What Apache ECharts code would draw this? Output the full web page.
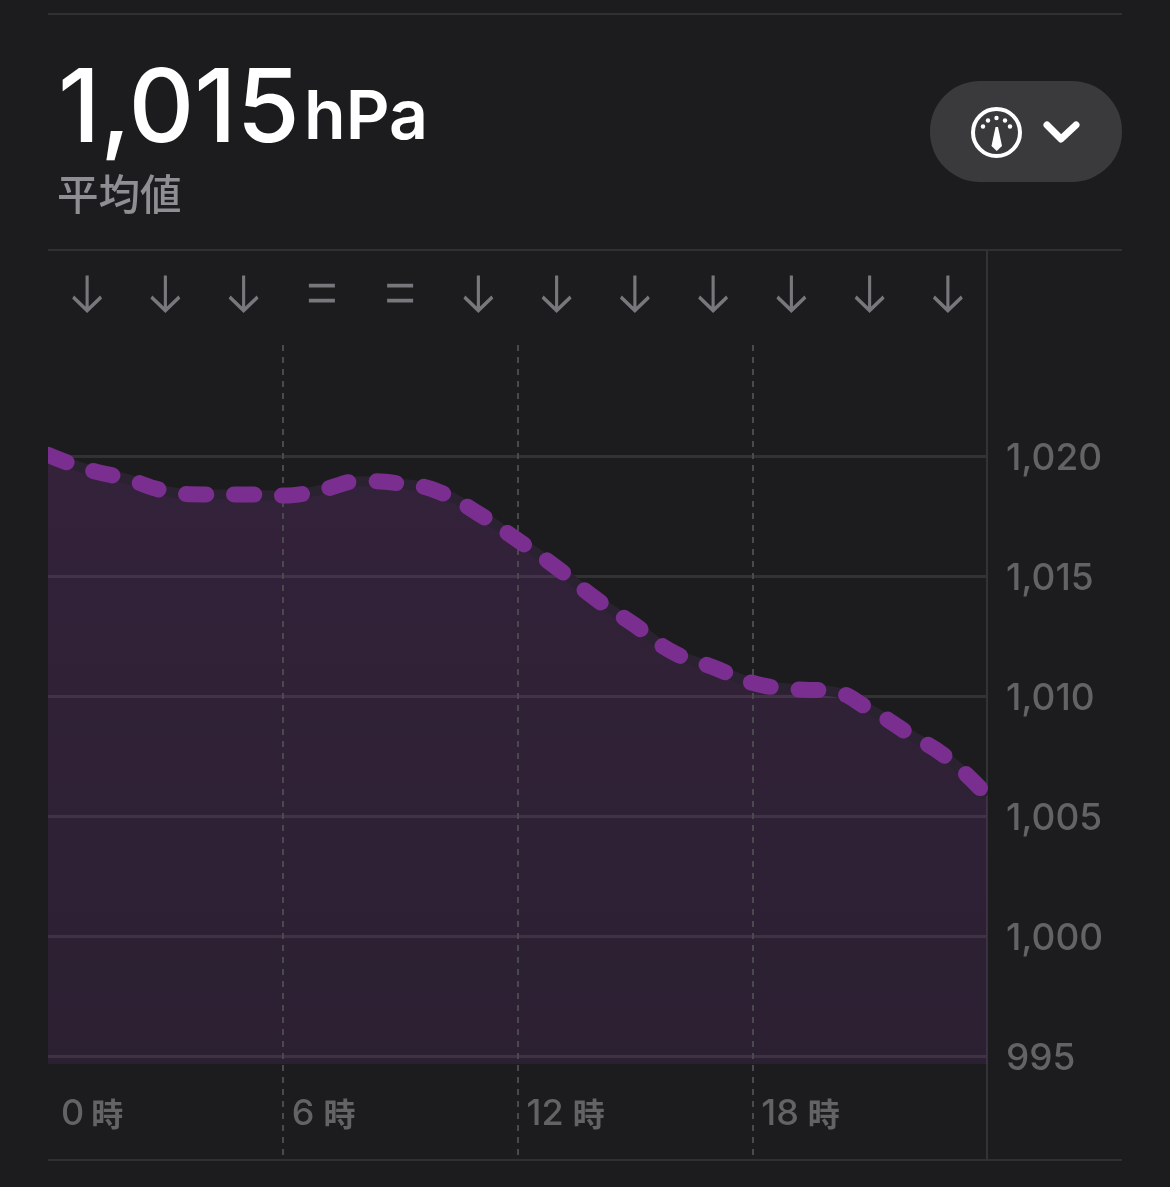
<!DOCTYPE html>
<html><head><meta charset="utf-8">
<style>html,body{margin:0;padding:0;background:#1c1c1e}#c{width:1170px;height:1187px}</style>
<script src="https://cdn.jsdelivr.net/npm/echarts@6/dist/echarts.min.js"></script>
</head><body><div id="c"></div>
<script>
const hours = [0,1,2,3,4,5,6,7,8,9,10,11,12,13,14,15,16,17,18,19,20,21,22,23,24];
const pressure = [1020.05,1019.45,1019.05,1018.55,1018.4,1018.4,1018.35,1018.6,1018.95,1018.85,1018.5,1017.6,1016.5,1015.35,1014.05,1012.95,1011.8,1011.2,1010.55,1010.3,1010.2,1009.45,1008.43,1007.4,1005.85];
const yTicks = [995,1000,1005,1010,1015,1020];
const xTickHours = [0,6,12,18];
const trendHours = [1,3,5,7,9,11,13,15,17,19,21,23];
const trends = ['down','down','down','same','same','down','down','down','down','down','down','down'];
const trendRow = 1026.79;
const areaBase = 994.67, yMin = 990.667, yMax = 1028.583, dashTop = 1024.625;
const headline = '1,015', unit = 'hPa', subtitle = '平均値', hourSuffix = '時';

const latin = 'Inter, "Noto Sans CJK JP", sans-serif';
const cjk = '"Noto Sans CJK JP", sans-serif';
const bg = '#1c1c1e';
const arrow = 'path://M15 0V36M1 22L15 36L29 22';
const equals = 'path://M0 0H28M0 15H28';
const rule = (y) => ({type:'line',shape:{x1:48,y1:y,x2:1122,y2:y},style:{stroke:'#303032',lineWidth:2},silent:true,z:20});

const chart = echarts.init(document.getElementById('c'),null,{renderer:'canvas'});
const digit = {color:'#636366',fontFamily:latin,fontSize:36,fontWeight:500,padding:[0,9,0,0]};
chart.setOption({
  animation:false,
  backgroundColor:bg,
  grid:{left:48,top:250,width:939,height:910},
  xAxis:{type:'value',min:0,max:24,interval:6,
    axisLine:{show:false},axisTick:{show:false},splitLine:{show:false},
    axisLabel:{inside:true,margin:46,showMaxLabel:false,
      align:'left',verticalAlign:'middle',padding:[0,0,0,9],
      rich:{d:digit,z:{...digit,padding:[0,7,0,4]},
            k:{color:'#636366',fontFamily:cjk,fontSize:32,fontWeight:700}},
      formatter:v=>xTickHours.includes(v)?'{'+(v===0?'z':'d')+'|'+v+'}{k|'+hourSuffix+'}':''}},
  yAxis:{type:'value',position:'right',min:yMin,max:yMax,
    axisLine:{show:true,onZero:false,lineStyle:{color:'#333335',width:2}},
    axisTick:{show:false,customValues:yTicks},
    splitLine:{show:true,lineStyle:{color:'#323234',width:3}},
    axisLabel:{customValues:yTicks,margin:19,verticalAlign:'middle',
      rich:{n:{color:'#636366',fontFamily:latin,fontSize:37,fontWeight:500,padding:[5,0,0,0]}},
      formatter:v=>'{n|'+Math.round(v).toLocaleString('en-US')+'}'}},
  series:[
    {type:'line',name:'halo',data:hours.map((h,i)=>[h,pressure[i]]),smooth:0.5,showSymbol:false,
      z:2,lineStyle:{color:'#2a2230',width:10},
      areaStyle:{origin:areaBase,opacity:1,color:new echarts.graphic.LinearGradient(0,0,0,1,[
        {offset:0,color:'rgba(134,56,158,0.22)'},{offset:1,color:'rgba(120,50,150,0.17)'}])},
      markLine:{silent:true,symbol:'none',label:{show:false},z:3,
        lineStyle:{color:'#4a4a4e',width:2,type:[6,6]},
        data:xTickHours.filter(h=>h>0).map(h=>[{coord:[h,dashTop]},{coord:[h,yMin]}])}},
    {type:'line',name:'気圧',data:hours.map((h,i)=>[h,pressure[i]]),smooth:0.5,showSymbol:false,z:4,
      lineStyle:{color:'#7a2e90',width:16,type:[20,28],cap:'round',join:'round'}},
    {type:'scatter',name:'傾向',data:trendHours.map((h,i)=>({value:[h,trendRow],symbol:trends[i]==='down'?arrow:equals,symbolSize:trends[i]==='down'?[28,35]:[26,15],
        itemStyle:{borderWidth:trends[i]==='down'?3.5:5}})),
      z:5,itemStyle:{color:'transparent',borderColor:'#8e8e93'}}
  ],
  graphic:[
    {type:'rect',shape:{x:30,y:430,width:18,height:50},style:{fill:bg},z:19},
    {type:'rect',shape:{x:988,y:770,width:14,height:40},style:{fill:bg},z:19},
    rule(14),rule(250),rule(1160),
    {type:'text',left:58,top:60,style:{text:headline,fill:'#fff',font:'500 102px '+latin,letterSpacing:-1},z:20},
    {type:'text',left:304,top:85,style:{text:unit,fill:'#fff',font:'600 68px '+latin},z:20},
    {type:'text',left:57,top:173,style:{text:subtitle,fill:'#8e8e93',font:'500 41.5px '+cjk},z:20},
    {type:'rect',shape:{x:930,y:81,width:192,height:101,r:50},style:{fill:'#3a3a3c'},z:20},
    {type:'circle',shape:{cx:996.5,cy:132.5,r:23.5},style:{fill:'none',stroke:'#fff',lineWidth:4},z:21},
    {type:'polygon',shape:{points:[[995.5,127],[998,127],[1002,146],[996.75,151],[991.5,146]]},style:{fill:'#fff'},z:21},
    ...[[983,126.5],[988,120.5],[996.5,118],[1005,120.5],[1010,126.5]].map(p=>({type:'circle',shape:{cx:p[0],cy:p[1],r:2.2},style:{fill:'#fff'},z:21})),
    {type:'polyline',shape:{points:[[1047,125],[1061,139],[1076,125]]},style:{fill:'none',stroke:'#fff',lineWidth:7,lineCap:'round',lineJoin:'round'},z:21}
  ]
});
</script></body></html>
